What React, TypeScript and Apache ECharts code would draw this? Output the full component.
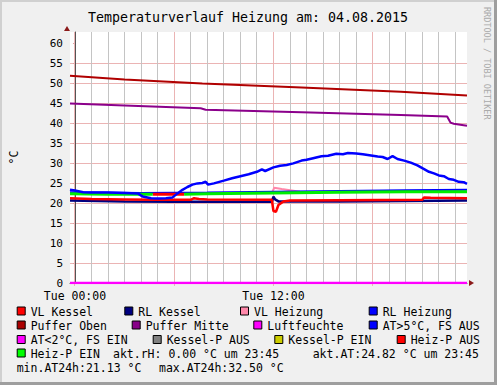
import React, { useEffect, useRef } from 'react';
import * as echarts from 'echarts';

const TITLE = 'Temperaturverlauf Heizung am: 04.08.2015';
const Y_UNIT = '°C';
const WATERMARK = 'RRDTOOL / TOBI OETIKER';
const X_MIN = -0.3;
const X_MAX = 23.7;
const Y_MAX = 62.75;
const xTickHours = [0, 12];
const xTickLabels = ['Tue 00:00', 'Tue 12:00'];
const yTicks = [0, 5, 10, 15, 20, 25, 30, 35, 40, 45, 50, 55, 60];
const majorHours = [0, 6, 12, 18];
const minorHours = [1, 2, 3, 4, 5, 7, 8, 9, 10, 11, 13, 14, 15, 16, 17, 19, 20, 21, 22, 23];

const pufferOben = [[-0.3, 51.8], [3, 50.9], [7.7, 49.9], [13.7, 48.9], [19.7, 47.8], [23.7, 46.9]];
const pufferMitte = [[-0.3, 44.9], [3, 44.4], [7.6, 43.7], [7.9, 43.3], [13.7, 42.7], [19.7, 42.0], [22.5, 41.6], [22.7, 40.1], [22.9, 39.8], [23.7, 39.3]];
const rlKessel = [[-0.3, 20.6], [3, 20.4], [6, 20.3], [11.9, 20.3], [12.0, 21.6], [12.1, 20.9], [12.3, 20.4], [16, 20.4], [20, 20.5], [23.7, 20.6]];
const vlKessel = [[-0.3, 21.2], [1, 21.0], [3, 20.9], [5, 20.8], [7.0, 20.8], [7.2, 21.2], [7.5, 21.0], [8, 20.9], [11.9, 20.8], [12.0, 18.0], [12.15, 17.8], [12.3, 19.5], [12.6, 20.4], [13, 20.6], [16, 20.7], [21.0, 20.8], [21.1, 21.4], [21.5, 21.3], [23.7, 21.2]];
const vlHeizung = [[11.9, 22.5], [12.05, 23.8], [12.5, 23.5], [13.0, 23.2], [13.6, 22.8]];
const rlHeizung = [[-0.3, 22.7], [4, 22.5], [8, 22.6], [12, 22.8], [16, 23.0], [20, 23.2], [23.7, 23.3]];
const heizPEin = [[-0.3, 22.3], [2, 22.2], [4.7, 22.2], [5.3, null], [6.6, 22.2], [8, 22.3], [12, 22.5], [16, 22.7], [20, 22.8], [23.7, 22.8]];
const heizPAus = [[4.7, 22.2], [6.6, 22.2]];
const aussenTemp = [[-0.3, 23.3], [0.0, 23.1], [0.5, 22.7], [1.0, 22.6], [2.0, 22.6], [3.0, 22.5], [3.8, 22.4], [4.1, 21.6], [4.6, 21.2], [5.0, 21.13], [5.5, 21.2], [5.9, 21.4], [6.2, 22.4], [6.5, 23.3], [6.8, 24.0], [7.1, 24.6], [7.4, 24.9], [7.7, 25.0], [7.9, 25.3], [8.05, 24.6], [8.4, 24.9], [9.0, 25.6], [9.5, 26.2], [10.0, 26.7], [10.5, 27.2], [11.0, 27.8], [11.3, 28.4], [11.5, 28.0], [12.0, 28.9], [12.4, 29.3], [12.8, 29.5], [13.2, 29.9], [13.7, 30.6], [14.0, 30.8], [14.4, 31.2], [14.9, 31.7], [15.3, 31.8], [15.8, 32.3], [16.2, 32.2], [16.5, 32.5], [17.0, 32.4], [17.4, 32.2], [17.9, 31.9], [18.3, 31.6], [18.6, 31.5], [18.9, 31.0], [19.2, 31.7], [19.5, 31.0], [19.9, 30.6], [20.3, 30.1], [20.7, 29.4], [21.0, 28.7], [21.4, 27.8], [21.7, 27.4], [22.0, 26.9], [22.3, 26.7], [22.6, 26.0], [22.9, 25.8], [23.2, 25.3], [23.5, 25.2], [23.7, 24.8]];
const luftfeuchte = [[-0.3, 0], [23.7, 0]];

const legendNames = [
  'VL Kessel', 'RL Kessel', 'VL Heizung', 'RL Heizung',
  'Puffer Oben', 'Puffer Mitte', 'Luftfeuchte', 'AT>5°C, FS AUS',
  'AT<2°C, FS EIN', 'Kessel-P AUS', 'Kessel-P EIN', 'Heiz-P AUS',
  'Heiz-P EIN',
];
const legendColors = [
  '#ff0000', '#000080', '#ff88aa', '#0000ff',
  '#aa0000', '#880088', '#ff00ff', '#0000ff',
  '#ff00ff', '#808080', '#cccc00', '#ff0000',
  '#00ff00',
];
const infoTexts = ['akt.rH: 0.00 °C um 23:45', 'akt.AT:24.82 °C um 23:45', 'min.AT24h:21.13 °C', 'max.AT24h:32.50 °C'];

// layout (pixel positions of legend text starts and row centres)
const legendTextX = [30.7, 138.3, 254, 382.7, 30.7, 145.7, 267.3, 382.7, 30.7, 166.7, 288.3, 410.7, 30.7];
const legendRowY = [311, 325, 339.5, 353, 367];
const infoPos = [[113, 353], [312.7, 353], [16.7, 367], [159, 367]];

const FONT = "'DejaVu Sans Mono', monospace";
const LFONT = `11.5px ${FONT}`;
const MINOR_COLOR = '#c4c4c4';
const MAJOR_COLOR = '#ebb4b4';

export default function App() {
  const ref = useRef<HTMLDivElement>(null);
  useEffect(() => {
    if (!ref.current) return;
    const chart = echarts.init(ref.current, null, { renderer: 'svg' });
    const line = (name: string, data: any[], color: string, width = 2) => ({
      name, type: 'line', data, symbol: 'none', z: 3, silent: true,
      lineStyle: { color, width }, itemStyle: { color },
    });
    const graphics: any[] = [];
    graphics.push({ type: 'rect', shape: { x: 0, y: 0, width: 497, height: 2 }, style: { fill: '#d0d0d0' }, silent: true });
    graphics.push({ type: 'rect', shape: { x: 0, y: 0, width: 2, height: 385 }, style: { fill: '#d0d0d0' }, silent: true });
    graphics.push({ type: 'rect', shape: { x: 494, y: 0, width: 3, height: 385 }, style: { fill: '#9e9e9e' }, silent: true });
    graphics.push({ type: 'rect', shape: { x: 0, y: 382, width: 497, height: 3 }, style: { fill: '#9e9e9e' }, silent: true });
    graphics.push({ type: 'polygon', shape: { points: [[64, 31], [70, 31], [67, 26]] }, style: { fill: '#8b1a1a' }, silent: true });
    graphics.push({ type: 'polygon', shape: { points: [[469, 280], [469, 286], [474, 283]] }, style: { fill: '#8b1a1a' }, silent: true });
    graphics.push({
      type: 'text', x: 487, y: 7, rotation: -Math.PI / 2,
      style: { text: WATERMARK, fill: '#aaaaaa', font: `8.5px ${FONT}`, align: 'left', verticalAlign: 'middle' }, silent: true,
    });
    legendNames.forEach((name, i) => {
      const row = Math.floor(i / 4);
      const y = legendRowY[row];
      const tx = legendTextX[i];
      graphics.push({ type: 'rect', shape: { x: tx - 13.5, y: y - 4, width: 8, height: 8 }, style: { fill: legendColors[i], stroke: '#000', lineWidth: 1 }, silent: true });
      graphics.push({ type: 'text', x: tx, y: y + 0.5, style: { text: name, fill: '#000', font: LFONT, align: 'left', verticalAlign: 'middle' }, silent: true });
    });
    infoTexts.forEach((t, i) => {
      graphics.push({ type: 'text', x: infoPos[i][0], y: infoPos[i][1] + 0.5, style: { text: t, fill: '#000', font: LFONT, align: 'left', verticalAlign: 'middle' }, silent: true });
    });
    graphics.push({ type: 'text', x: 248, y: 17, style: { text: TITLE, fill: '#000', font: `13.3px ${FONT}`, align: 'center', verticalAlign: 'middle' }, silent: true });

    const gridData = [
      ...minorHours.map((h) => [h, 0]),
      ...majorHours.map((h) => [h, 1]),
    ];

    const option: any = {
      animation: false,
      backgroundColor: '#f0f0f0',
      grid: { left: 67, top: 32, width: 400, height: 251, show: true, backgroundColor: '#ffffff', borderWidth: 0, containLabel: false },
      xAxis: {
        type: 'value', min: X_MIN, max: X_MAX,
        splitLine: { show: false },
        axisTick: { show: false },
        axisLine: { show: true, onZero: false, lineStyle: { color: '#555555', width: 1 } },
        axisLabel: {
          customValues: xTickHours, margin: 7, color: '#000', fontFamily: FONT, fontSize: 11.5,
          formatter: (v: number) => xTickLabels[xTickHours.indexOf(v)] ?? '',
        },
      },
      yAxis: {
        type: 'value', min: 0, max: Y_MAX, interval: 5,
        name: Y_UNIT, nameLocation: 'middle', nameRotate: 90, nameGap: 50,
        nameTextStyle: { color: '#000', fontFamily: FONT, fontSize: 11.5 },
        splitLine: { show: true, showMaxLine: false, showMinLine: false, lineStyle: { color: MAJOR_COLOR, width: 1 } },
        axisTick: { show: true, length: 2, customValues: yTicks, lineStyle: { color: '#e0a0a0' } },
        axisLine: { show: true, lineStyle: { color: '#555555', width: 1 } },
        axisLabel: {
          customValues: yTicks, margin: 7, color: '#000', fontFamily: FONT, fontSize: 11,
          formatter: (v: number) => (yTicks.indexOf(v) >= 0 ? String(v) : ''),
        },
      },
      graphic: graphics,
      series: [
        {
          name: 'vgrid', type: 'custom', data: gridData, z: 2, silent: true, clip: false,
          renderItem: (params: any, api: any) => {
            const h = api.value(0);
            const major = api.value(1) === 1;
            const x = Math.floor(api.coord([h, 0])[0]) + 0.5;
            const cs = params.coordSys;
            return {
              type: 'line',
              shape: { x1: x, y1: cs.y, x2: x, y2: cs.y + cs.height + (major ? 3 : 0) },
              style: { stroke: major ? MAJOR_COLOR : MINOR_COLOR, lineWidth: 1 },
            };
          },
        },
        line('Puffer Oben', pufferOben, '#b00000', 2),
        line('Puffer Mitte', pufferMitte, '#8b008b', 2),
        line('RL Kessel', rlKessel, '#000080', 2.5),
        line('VL Kessel', vlKessel, '#ff0000', 2.5),
        line('VL Heizung', vlHeizung, '#ff88aa', 2),
        line('RL Heizung', rlHeizung, '#0000ff', 2),
        line('Heiz-P AUS', heizPAus, '#ff0000', 3),
        line('Heiz-P EIN', heizPEin, '#00ee00', 3),
        line('AT', aussenTemp, '#0000ff', 2.5),
        line('Luftfeuchte', luftfeuchte, '#ff00ff', 2.5),
      ],
    };
    chart.setOption(option);
    return () => chart.dispose();
  }, []);
  return <div ref={ref} style={{ position: 'absolute', left: 0, top: 0, width: 497, height: 385 }} />;
}
